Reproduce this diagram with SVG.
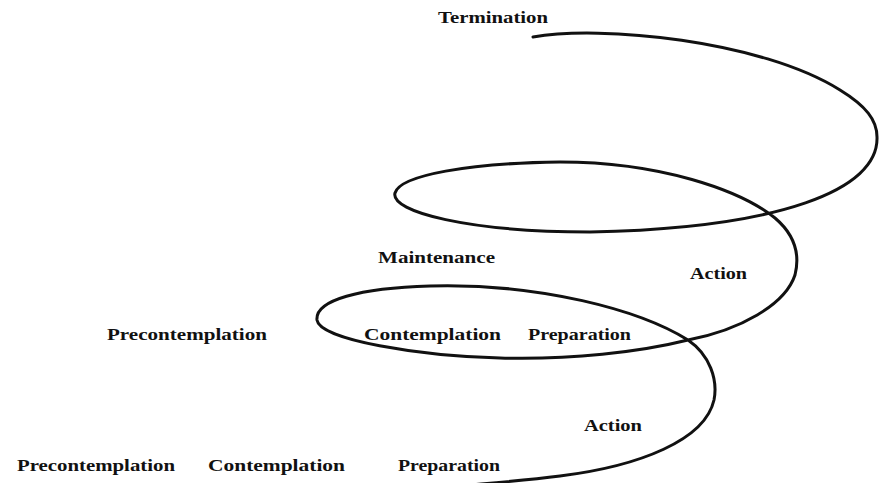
<svg xmlns="http://www.w3.org/2000/svg" width="882" height="483" viewBox="0 0 882 483">
<style>
.lbl{font-family:"Liberation Serif","Times New Roman",serif;font-weight:bold;font-size:17px;fill:#111}
.spiral{fill:none;stroke:#111;stroke-width:3;stroke-linecap:round;stroke-linejoin:round}
</style>
<rect width="882" height="483" fill="#fff"/>
<g id="connectors">
<path class="spiral" d="M533,37 C600,25 760,40 840,90 C866,106 877,120 877,137 C879,190 780,228 590,232 C470,232 390,212 395,193 C400,175 470,163 560,162 C660,162 740,190 775,218 C795,235 800,255 795,275 C785,305 740,330 688,340 C640,352 570,360 500,358 C420,356 320,340 317,320 C315,300 360,288 430,286 C540,283 640,310 688,340 C710,355 718,380 714,400 C705,440 640,466 560,476 C520,481 480,484 460,486"/>
</g>
<g id="termination"><text class="lbl" x="438" y="23" textLength="110" lengthAdjust="spacingAndGlyphs">Termination</text></g>
<g id="maintenance"><text class="lbl" x="378" y="263" textLength="117" lengthAdjust="spacingAndGlyphs">Maintenance</text></g>
<g id="action-upper"><text class="lbl" x="690" y="279" textLength="57" lengthAdjust="spacingAndGlyphs">Action</text></g>
<g id="precontemplation-mid"><text class="lbl" x="107" y="340" textLength="160" lengthAdjust="spacingAndGlyphs">Precontemplation</text></g>
<g id="contemplation-mid"><text class="lbl" x="364" y="340" textLength="137" lengthAdjust="spacingAndGlyphs">Contemplation</text></g>
<g id="preparation-mid"><text class="lbl" x="528" y="340" textLength="103" lengthAdjust="spacingAndGlyphs">Preparation</text></g>
<g id="action-lower"><text class="lbl" x="584" y="431" textLength="58" lengthAdjust="spacingAndGlyphs">Action</text></g>
<g id="precontemplation-low"><text class="lbl" x="17" y="471" textLength="158" lengthAdjust="spacingAndGlyphs">Precontemplation</text></g>
<g id="contemplation-low"><text class="lbl" x="208" y="471" textLength="137" lengthAdjust="spacingAndGlyphs">Contemplation</text></g>
<g id="preparation-low"><text class="lbl" x="398" y="471" textLength="102" lengthAdjust="spacingAndGlyphs">Preparation</text></g>
</svg>
